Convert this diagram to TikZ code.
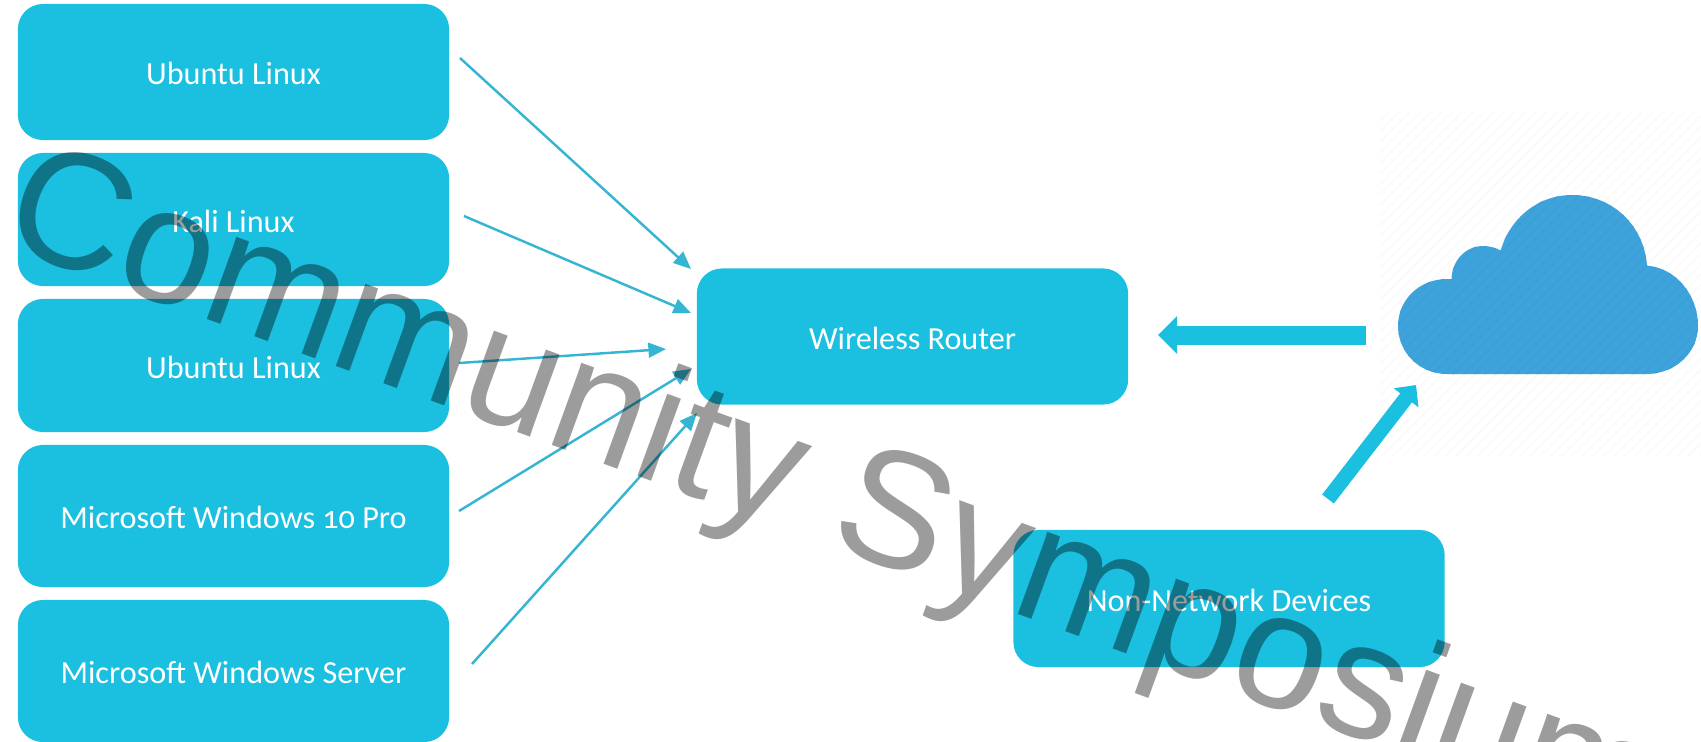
\documentclass[tikz,border=0pt]{standalone}
\usepackage{fontspec}
\setmainfont{Carlito}[Numbers=OldStyle]
\newfontfamily\markfont{Liberation Sans}
\usetikzlibrary{arrows.meta,patterns}
\definecolor{boxblue}{HTML}{1BBFE0}
\definecolor{linkblue}{HTML}{36B5D3}
\definecolor{cloudblue}{HTML}{3FA3DB}
\definecolor{cloudline}{HTML}{3C9FD8}
\definecolor{hatchgrey}{HTML}{F9F9F9}
\tikzset{
  hostbox/.style={fill=boxblue, rounded corners=0.25cm, minimum width=4.31cm, minimum height=#1, inner sep=0pt, text=white, text height=7.2pt, text depth=0pt, font=\fontsize{9.15}{11}\selectfont},
  link/.style={draw=linkblue, line width=0.7pt, -{Triangle[length=5pt,width=4.2pt]}},
  fatlink/.style={draw=boxblue, line width=5.4pt, -{Triangle[length=5.4pt,width=10.4pt]}},
  thinfatlink/.style={draw=boxblue, line width=4.2pt, -{Triangle[length=4.6pt,width=8.6pt]}},
}
\begin{document}
\begin{tikzpicture}[x=0.01cm,y=-0.01cm]
\useasboundingbox (0,0) rectangle (1701,741);

\path[pattern=north east lines, pattern color=hatchgrey] (1380,112) rectangle (1701,456);
\path[fill=cloudblue] (1447,374) .. controls (1419,374) and (1398,352) .. (1398,326)
  .. controls (1398,300) and (1419,279) .. (1447,279) -- (1451.5,279)
  .. controls (1452,260) and (1466,246) .. (1483,246)
  .. controls (1490,246) and (1496,248) .. (1500.7,250.4)
  .. controls (1510,218) and (1538,195) .. (1572,195)
  .. controls (1612,195) and (1644,225) .. (1647,265.6)
  .. controls (1676,268) and (1698,295) .. (1698,326)
  .. controls (1698,352) and (1676,374) .. (1646,374) -- cycle;
\path[pattern=north east lines, pattern color=cloudline] (1447,374) .. controls (1419,374) and (1398,352) .. (1398,326)
  .. controls (1398,300) and (1419,279) .. (1447,279) -- (1451.5,279)
  .. controls (1452,260) and (1466,246) .. (1483,246)
  .. controls (1490,246) and (1496,248) .. (1500.7,250.4)
  .. controls (1510,218) and (1538,195) .. (1572,195)
  .. controls (1612,195) and (1644,225) .. (1647,265.6)
  .. controls (1676,268) and (1698,295) .. (1698,326)
  .. controls (1698,352) and (1676,374) .. (1646,374) -- cycle;

\node[hostbox=1.36cm] (ubuntuone) at (233.5,72) {Ubuntu Linux};
\node[hostbox=1.33cm] (kali) at (233.5,219.5) {Kali Linux};
\node[hostbox=1.33cm] (ubuntutwo) at (233.5,365.5) {Ubuntu Linux};
\node[hostbox=1.42cm] (winpro) at (233.5,516) {Microsoft Windows 10 Pro};
\node[hostbox=1.42cm] (winserver) at (233.5,671) {Microsoft Windows Server};
\node[hostbox=1.36cm] (router) at (912.5,336.5) {Wireless Router};
\node[hostbox=1.37cm] (nonnet) at (1229,598.5) {Non-Network Devices};

\coordinate (ubuntuone out) at (460,58);
\coordinate (kali out) at (464,216);
\coordinate (ubuntutwo out) at (459,363);
\coordinate (winpro out) at (459,511);
\coordinate (winserver out) at (472,664);
\coordinate (router a) at (691,269);
\coordinate (router b) at (691,313);
\coordinate (router c) at (666,349);
\coordinate (router d) at (691,369);
\coordinate (router e) at (697,413);
\coordinate (cloud out) at (1366,335);
\coordinate (router in) at (1158,335);
\coordinate (nonnet out) at (1328,499);
\coordinate (cloud in) at (1416,385);

\draw[link] (ubuntuone out) -- (router a);
\draw[link] (kali out) -- (router b);
\draw[link] (ubuntutwo out) -- (router c);
\draw[link] (winpro out) -- (router d);
\draw[link] (winserver out) -- (router e);
\draw[fatlink] (cloud out) -- (router in);
\draw[thinfatlink] (nonnet out) -- (cloud in);

\node[anchor=base west, rotate=-20, inner sep=0pt, text=black, text opacity=0.39, font=\markfont\fontsize{47}{50}\selectfont] (watermark) at (-3,243) {Community Symposium};
\end{tikzpicture}
\end{document}
